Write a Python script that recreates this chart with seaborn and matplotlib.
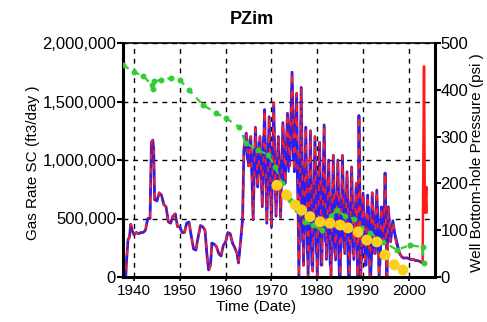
import matplotlib
matplotlib.use("Agg")
import matplotlib.pyplot as plt
import matplotlib.ticker as mticker
import seaborn as sns
import pandas as pd

sns.set_theme(style="white")
plt.rcParams['font.family'] = ['Liberation Sans', 'DejaVu Sans']

title = "PZim"
x_label = "Time (Date)"
y_left_label = "Gas Rate SC (ft3/day )"
y_right_label = "Well Bottom-hole Pressure (psi )"

# Gas rate, main series (thousand ft3/day)
rate_years = [1938.2, 1938.4, 1938.7, 1939.0, 1939.3, 1939.6, 1940.0, 1940.5, 1941.0, 1941.5,
              1942.0, 1942.5, 1943.0, 1943.5, 1943.8, 1944.1, 1944.3, 1944.5, 1945.0, 1945.5,
              1946.0, 1946.5, 1947.0, 1947.5, 1948.0, 1948.5, 1949.0, 1949.5, 1950.0, 1950.5,
              1951.0, 1951.5, 1952.0, 1952.5, 1953.0, 1953.5, 1954.0, 1954.5, 1955.0, 1955.5,
              1955.9, 1956.3, 1956.7, 1957.0, 1957.5, 1958.0, 1958.5, 1959.0, 1959.5, 1960.0,
              1960.5, 1961.0, 1961.5, 1962.0, 1962.5, 1962.8, 1963.3, 1963.7,
              1964.0, 1964.5, 1965.0, 1965.5, 1966.0, 1966.5, 1967.0, 1967.5,
              1968.0, 1968.5, 1969.0, 1969.5, 1970.0, 1970.5, 1971.0, 1971.5,
              1972.0, 1972.5, 1973.0, 1973.5, 1974.0, 1974.5, 1975.0, 1975.5,
              1976.0, 1976.5, 1977.0, 1977.5, 1978.0, 1978.5, 1979.0, 1979.5,
              1980.0, 1980.5, 1981.0, 1981.5, 1982.0, 1982.5, 1983.0, 1983.5,
              1984.0, 1984.5, 1985.0, 1985.5, 1986.0, 1986.5, 1987.0, 1987.5,
              1988.0, 1988.5, 1988.9, 1989.1, 1989.5, 1990.0, 1990.5, 1991.0,
              1991.5, 1992.0, 1992.5, 1993.0, 1993.5, 1994.0, 1994.5, 1994.8,
              1995.2, 1995.5, 1996.0, 1996.5, 1997.0, 1997.5, 1998.0, 1998.5,
              1999.0, 1999.5, 2000.0, 2000.5, 2001.0, 2001.5, 2002.0, 2002.5, 2003.0]
rate_k = [0, 150, 320, 340, 450, 400, 360, 380, 370, 380,
          380, 400, 500, 500, 1150, 1170, 1100, 660, 650, 720,
          700, 620, 600, 470, 460, 520, 540, 430, 430, 380,
          380, 460, 470, 350, 240, 230, 340, 440, 430, 400,
          200, 60, 100, 290, 280, 260, 200, 180, 270, 300,
          380, 370, 290, 250, 200, 120, 320, 490,
          1100, 1230, 950, 1200, 490, 1280, 770, 1200,
          600, 1430, 460, 1370, 430, 1490, 520, 1200,
          510, 1320, 800, 1400, 950, 1750, 900, 1570,
          0, 1620, 100, 1280, 0, 1250, 50, 1200,
          0, 1150, 100, 1300, 150, 1000, 0, 1040,
          145, 1000, 0, 1040, 200, 900, 0, 940,
          150, 800, 0, 1380, 0, 718, 100, 700,
          0, 720, 200, 743, 0, 600, 300, 889,
          0, 600, 300, 480, 350, 260, 200, 170,
          160, 165, 155, 150, 150, 140, 140, 130, 120]

# Gas rate, secondary (blue) series in the busy period (thousand ft3/day)
blue_years = [1964.25, 1964.75, 1965.25, 1965.75, 1966.25, 1966.75, 1967.25, 1967.75,
              1968.25, 1968.75, 1969.25, 1969.75, 1970.25, 1970.75, 1971.25, 1971.75,
              1972.25, 1972.75, 1973.25, 1973.75, 1974.25, 1974.75, 1975.25, 1975.75,
              1976.25, 1976.75, 1977.25, 1977.75, 1978.25, 1978.75, 1979.25, 1979.75,
              1980.25, 1980.75, 1981.25, 1981.75, 1982.25, 1982.75, 1983.25, 1983.75,
              1984.25, 1984.75, 1985.25, 1985.75, 1986.25, 1986.75, 1987.25, 1987.75,
              1988.25, 1988.75, 1989.25, 1989.75, 1990.25, 1990.75, 1991.25, 1991.75,
              1992.25, 1992.75, 1993.25, 1993.75, 1994.25, 1994.75, 1995.25, 1995.75,
              1996.25, 1996.75, 1997.25, 1997.75]
blue_k = [1150, 1000, 1180, 900, 1100, 850, 1150, 900,
          1200, 800, 1150, 700, 1100, 850, 1000, 750,
          1050, 800, 1100, 900, 1300, 1000, 1200, 700,
          1000, 300, 900, 200, 800, 100, 700, 200,
          900, 100, 800, 300, 700, 100, 600, 200,
          700, 0, 600, 250, 700, 0, 650, 200,
          550, 100, 600, 150, 550, 100, 600, 0,
          500, 200, 600, 100, 550, 400, 300, 450,
          380, 400, 330, 250]

# Final red spike of gas rate (thousand ft3/day)
spike_years = [2003.0, 2003.3, 2003.5, 2003.8, 2003.9]
spike_k = [120, 1800, 550, 770, 550]

# Pressure (psi), green dashed series
pres_years = [1937.6, 1940.0, 1942.0, 1943.9, 1944.1, 1944.3, 1946.0, 1948.0, 1950.0, 1952.0,
              1955.0, 1958.0, 1960.0, 1963.0, 1964.4, 1967.0, 1969.3, 1970.8, 1972.3, 1974.0,
              1975.6, 1977.3, 1979.0, 1981.0, 1983.0, 1984.3, 1986.0, 1988.0, 1989.5, 1991.5,
              1994.4, 1997.4, 2000.2, 2003.0, 2003.3]
pres_psi = [453, 438, 430, 410, 402, 418, 421, 425, 421, 400,
            368, 350, 340, 320, 286, 271, 261, 235, 201, 165,
            143, 118, 111, 100, 130, 143, 130, 125, 105, 94,
            75, 58, 68, 64, 30]

# Pressure points (psi), yellow markers
pz_years = [1971.2, 1973.3, 1975.2, 1976.6, 1978.4, 1980.6, 1982.8, 1985.0, 1986.7, 1988.9,
            1990.8, 1993.0, 1994.8, 1996.8, 1998.7]
pz_psi = [196, 175, 154, 143, 129, 118, 115, 111, 105, 96,
          79, 75, 47, 26, 15]

rate_df = pd.DataFrame({"year": rate_years, "rate": [v * 1000 for v in rate_k]})
blue_df = pd.DataFrame({"year": blue_years, "rate": [v * 1000 for v in blue_k]})
spike_df = pd.DataFrame({"year": spike_years, "rate": [v * 1000 for v in spike_k]})
pres_df = pd.DataFrame({"year": pres_years, "psi": pres_psi})
pz_df = pd.DataFrame({"year": pz_years, "psi": pz_psi})

fig = plt.figure(figsize=(4.87, 3.22), dpi=100)
ax = fig.add_axes([123 / 487, 1 - 277 / 322, (435 - 123) / 487, (277 - 43) / 322])
ax2 = ax.twinx()

sns.lineplot(data=rate_df, x="year", y="rate", ax=ax, color="#6a1a9a", lw=2.0,
             sort=False, estimator=None)
sns.lineplot(data=blue_df, x="year", y="rate", ax=ax, color="#1f1fff", lw=1.4,
             sort=False, estimator=None)
sns.lineplot(data=rate_df, x="year", y="rate", ax=ax, color="#1f1fff", lw=1.5,
             sort=False, estimator=None)
ax.lines[-1].set_linestyle((0, (3, 5)))
sns.lineplot(data=rate_df, x="year", y="rate", ax=ax, color="#ff2020", lw=1.3,
             sort=False, estimator=None)
ax.lines[-1].set_linestyle((4, (3, 5)))
ax.lines[-1].set_dash_capstyle("butt")
sns.lineplot(data=spike_df, x="year", y="rate", ax=ax, color="#ff1a1a", lw=1.8,
             sort=False, estimator=None)

sns.lineplot(data=pres_df, x="year", y="psi", ax=ax2, color="#33cc33", lw=1.6,
             sort=False, estimator=None, marker="o", markersize=3.5,
             markeredgecolor="#33cc33")
ax2.lines[-1].set_linestyle((0, (3, 2.5)))
sns.scatterplot(data=pz_df, x="year", y="psi", ax=ax2, color="#fccf1c", s=62,
                edgecolor="none", zorder=5)

ax.set_xlim(1937.6, 2005.7)
ax.set_ylim(0, 2000000)
ax2.set_ylim(0, 500)

ax.set_xticks([1940, 1950, 1960, 1970, 1980, 1990, 2000])
ax.set_yticks([0, 500000, 1000000, 1500000, 2000000])
ax.yaxis.set_major_formatter(mticker.FuncFormatter(lambda v, p: f"{int(v):,}"))
ax2.set_yticks([0, 100, 200, 300, 400, 500])

ax.grid(True, color="black", linestyle=(0, (3.5, 3.5)), linewidth=1.0)
ax.set_axisbelow(True)

for sp in ["left", "bottom"]:
    ax.spines[sp].set_linewidth(2.2)
    ax.spines[sp].set_color("black")
ax.spines["top"].set_linewidth(1.2)
ax.spines["top"].set_color("black")
ax2.spines["right"].set_linewidth(2.2)
ax2.spines["right"].set_color("black")
for sp in ["left", "bottom", "top"]:
    ax2.spines[sp].set_visible(False)

ax.tick_params(axis="y", direction="out", length=4, width=1.5, color="black",
               labelsize=12, labelcolor="black", pad=1, left=True)
ax.tick_params(axis="x", direction="out", length=3, width=1.2, color="black",
               labelsize=11, labelcolor="black", pad=2, bottom=True)
ax2.tick_params(axis="y", direction="out", length=4, width=1.5, color="black",
                labelsize=12, labelcolor="black", pad=0, right=True)

ax.set_xlabel(x_label, fontsize=11, color="black")
ax.set_ylabel(y_left_label, fontsize=11, color="black")
ax2.set_ylabel(y_right_label, fontsize=11, color="black")

ax.xaxis.set_label_coords((256 - 123) / (435 - 123), -(307 - 277) / (277 - 43))
ax.xaxis.label.set_va("center")
ax.yaxis.set_label_coords(-(123 - 33) / (435 - 123), (277 - 163) / (277 - 43))
ax.yaxis.label.set_va("center")
ax2.yaxis.set_label_coords((477 - 123) / (435 - 123), (277 - 163) / (277 - 43))
ax2.yaxis.label.set_va("center")

fig.text(252 / 487, 1 - 20 / 322, title, ha="center", va="center",
         fontsize=13, fontweight="bold", color="black")

fig.savefig("out.png", dpi=100)
